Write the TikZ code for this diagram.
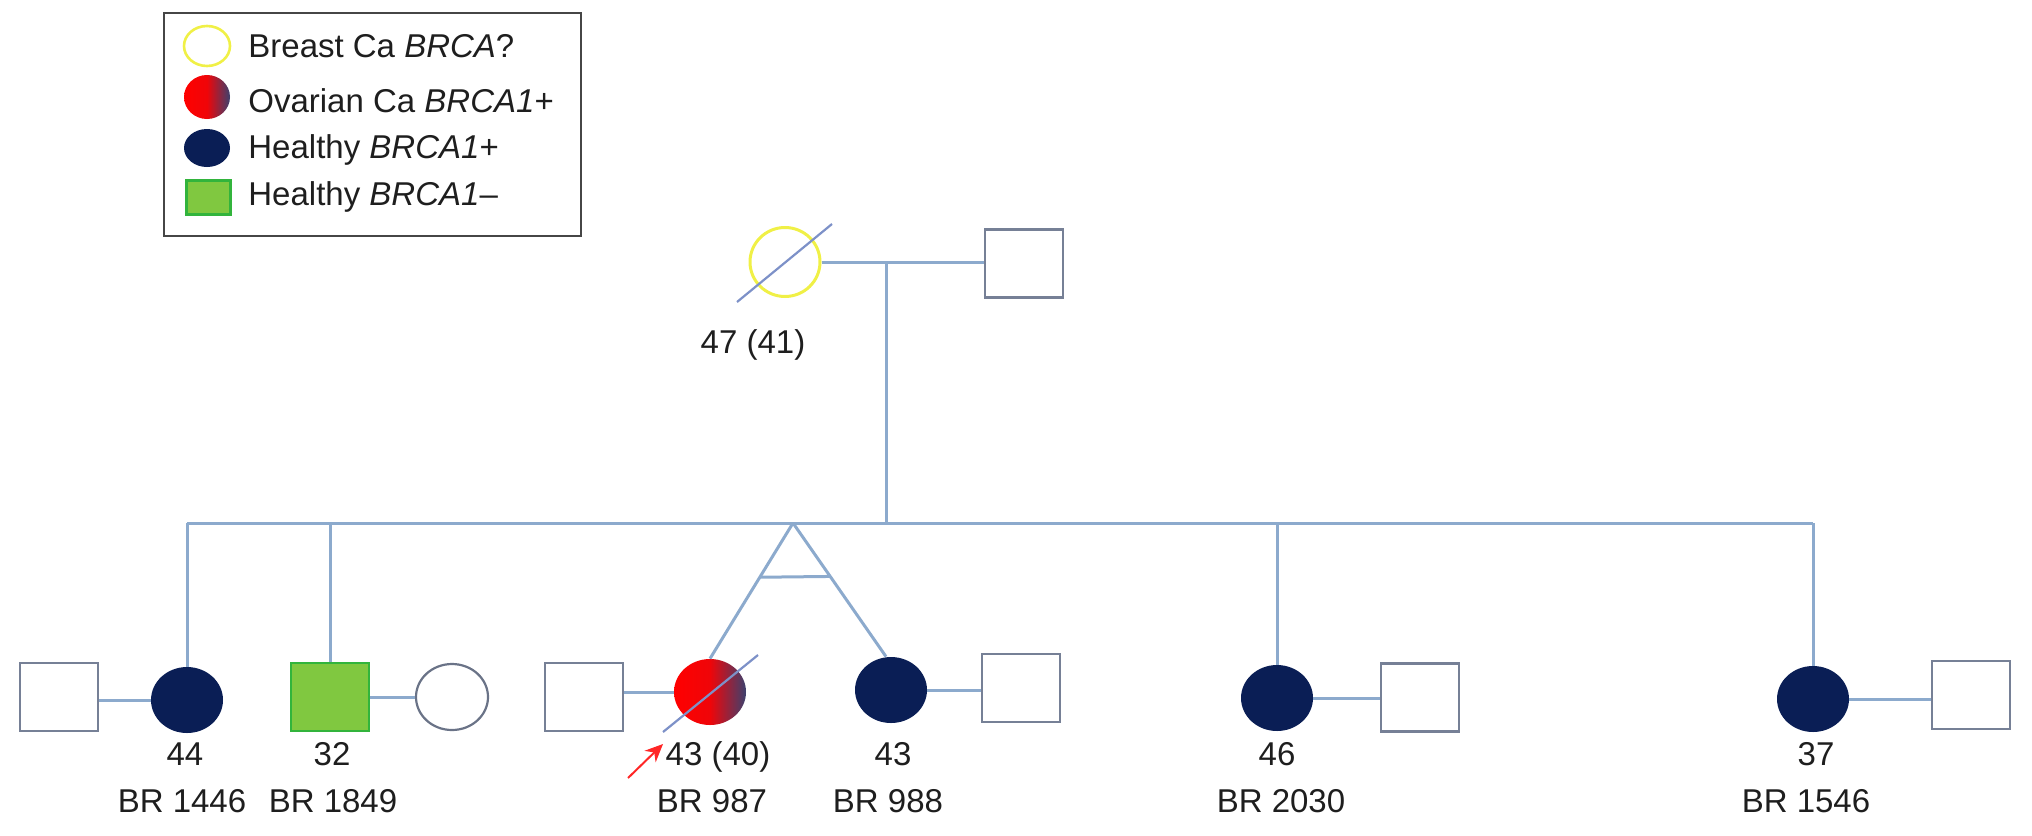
\documentclass[tikz,border=0pt]{standalone}
\usepackage{fontspec}
\setmainfont{Liberation Sans}
\usetikzlibrary{shapes.geometric,arrows.meta,calc}
\definecolor{linec}{RGB}{140,170,205}
\definecolor{sqc}{RGB}{118,128,150}
\definecolor{navyc}{RGB}{10,30,85}
\definecolor{greenf}{RGB}{128,200,64}
\definecolor{greend}{RGB}{50,180,60}
\definecolor{yellowc}{RGB}{240,240,70}
\definecolor{textc}{RGB}{30,30,30}
\definecolor{slashc}{RGB}{125,145,200}
\definecolor{ovr}{RGB}{60,65,110}
\definecolor{legc}{RGB}{70,70,70}
\pgfdeclarehorizontalshading{ovar}{100bp}{color(0bp)=(red); color(25bp)=(red); color(50bp)=(red!92!ovr); color(75bp)=(ovr); color(100bp)=(ovr)}
\tikzset{
  conn/.style={draw=linec, line width=1.5pt},
  male/.style={rectangle, draw=sqc, line width=1.4pt, fill=white, minimum width=39pt, minimum height=34pt, inner sep=0pt},
  fem/.style={ellipse, minimum width=36pt, minimum height=33pt, inner sep=0pt},
  carrier/.style={fem, fill=navyc},
  emptyfem/.style={fem, draw=sqc!90!black, line width=1.1pt},
  lbl/.style={anchor=base, text=textc, inner sep=0pt, font=\fontsize{16.5}{20}\selectfont},
  legtxt/.style={anchor=base west, text=textc, inner sep=0pt, font=\fontsize{16.5}{20}\selectfont},
  slash/.style={draw=slashc, line width=1.1pt}
}
\begin{document}
\begin{tikzpicture}[x=0.5pt, y=-0.5pt]
\useasboundingbox (0,0) rectangle (2032,835);
% legend
\node[draw=legc, line width=1pt, minimum width=208.5pt, minimum height=111.5pt, inner sep=0pt] (legend) at (372.5,124.5) {};
\node[fem, draw=yellowc, line width=1.3pt, minimum width=23pt, minimum height=20pt] (lg1) at (207,46) {};
\node[fem, shading=ovar, minimum width=23pt, minimum height=22pt] (lg2) at (207,97) {};
\node[fem, fill=navyc, minimum width=23pt, minimum height=19pt] (lg3) at (207,148) {};
\node[rectangle, draw=greend, fill=greenf, line width=1.2pt, minimum width=22pt, minimum height=17pt, inner sep=0pt] (lg4) at (208.5,197.5) {};
\node[legtxt] (lt1) at (248,57) {Breast Ca \textit{BRCA}?};
\node[legtxt] (lt2) at (248,112) {Ovarian Ca \textit{BRCA1}+};
\node[legtxt] (lt3) at (248,158) {Healthy \textit{BRCA1}+};
\node[legtxt] (lt4) at (248,205) {Healthy \textit{BRCA1}--};
% generation I
\node[fem, draw=yellowc, line width=1.5pt, minimum width=35pt, minimum height=34.5pt] (f0) at (785,262) {};
\node[male] (m0) at (1024,263.5) {};
\draw[slash] ($(f0)+(-48,40)$) -- ($(f0)+(47,-38)$);
\node[lbl] (l0) at (753,353) {47 (41)};
\coordinate (d0) at (886,263);
\coordinate (d1) at (886,523);
\draw[conn] (f0.east) -- (m0.west |- f0.east);
\draw[conn] (d0) -- (d1);
% sibship line
\coordinate (sibL) at (187,523);
\coordinate (sibR) at (1813,523);
\coordinate (sb32) at (330,523);
\coordinate (tw) at (793,523);
\coordinate (sb2030) at (1277,523);
\draw[conn] (sibL) -- (sibR);
% generation II
\node[carrier] (c44) at (187,700) {};
\node[male] (s44) at (59,697) {};
\node[male, draw=greend, fill=greenf] (c32) at (330,697) {};
\node[emptyfem] (s32) at (452,697) {};
\node[male] (s987) at (584,697) {};
\node[fem, shading=ovar] (c987) at (710,692) {};
\node[carrier] (c988) at (891,690) {};
\node[male] (s988) at (1021,688) {};
\node[carrier] (c2030) at (1277,698) {};
\node[male] (s2030) at (1420,697.5) {};
\node[carrier] (c1546) at (1813,699) {};
\node[male] (s1546) at (1971,695) {};
% descent lines
\draw[conn] (sibL) -- (c44);
\draw[conn] (sb32) -- (c32);
\draw[conn] (tw) -- (c987.north);
\draw[conn] (tw) -- ($(c988.north)+(-5,0)$);
\draw[conn] ($(tw)!0.4!(c987.north)$) -- ($(tw)!0.4!($(c988.north)+(-5,0)$)$);
\draw[conn] (sb2030) -- (c2030);
\draw[conn] (sibR) -- (c1546);
% marriage lines
\draw[conn] (s44.east |- c44.west) -- (c44.west);
\draw[conn] (c32.east) -- (s32.west);
\draw[conn] (s987.east |- c987.west) -- (c987.west);
\draw[conn] (c988.east) -- (s988.west |- c988.east);
\draw[conn] (c2030.east) -- (s2030.west |- c2030.east);
\draw[conn] (c1546.east) -- (s1546.west |- c1546.east);
% deceased slash and proband arrow
\draw[slash] ($(c987)+(-47,40)$) -- ($(c987)+(48,-37)$);
\coordinate (pa) at (628,778);
\coordinate (pb) at (663,744);
\draw[red!85!white, line width=1pt, -{Stealth[length=9pt,width=8pt]}] (pa) -- (pb);
% labels
\node[lbl] (a44) at (185,765) {44};
\node[lbl] (b44) at (182,812) {BR 1446};
\node[lbl] (a32) at (332,765) {32};
\node[lbl] (b32) at (333,812) {BR 1849};
\node[lbl] (a987) at (718,765) {43 (40)};
\node[lbl] (b987) at (712,812) {BR 987};
\node[lbl] (a988) at (893,765) {43};
\node[lbl] (b988) at (888,812) {BR 988};
\node[lbl] (a2030) at (1277,765) {46};
\node[lbl] (b2030) at (1281,812) {BR 2030};
\node[lbl] (a1546) at (1816,765) {37};
\node[lbl] (b1546) at (1806,812) {BR 1546};
\end{tikzpicture}
\end{document}
